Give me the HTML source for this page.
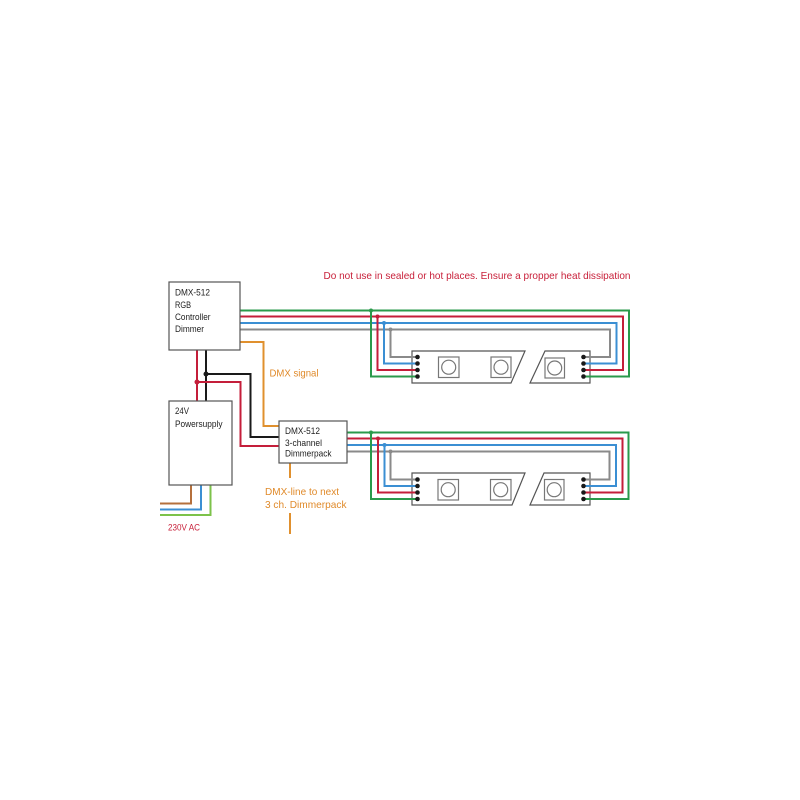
<!DOCTYPE html>
<html>
<head>
<meta charset="utf-8">
<style>
html,body{margin:0;padding:0;background:#fff;}
svg{display:block;}
text{font-family:"Liberation Sans",sans-serif;}
</style>
</head>
<body>
<svg width="800" height="800" viewBox="0 0 800 800" xmlns="http://www.w3.org/2000/svg">
<rect width="800" height="800" fill="#fff"/>

<text x="323.5" y="279" font-size="10.5" fill="#c8203a" textLength="307" lengthAdjust="spacingAndGlyphs">Do not use in sealed or hot places. Ensure a propper heat dissipation</text>

<g fill="#fff" stroke="#555" stroke-width="1.2">
  <polygon points="412,351 525,351 511,383 412,383"/>
  <polygon points="545,351 590,351 590,383 530,383"/>
  <polygon points="412,473 525,473 512,505 412,505"/>
  <polygon points="544,473 590,473 590,505 530,505"/>
</g>
<g fill="#fff" stroke="#777" stroke-width="1.2">
  <rect x="438.5" y="357" width="20.5" height="20.5"/>
  <circle cx="448.7" cy="367.2" r="7"/>
  <rect x="491" y="357" width="20" height="20.5"/>
  <circle cx="501" cy="367.2" r="7"/>
  <rect x="545" y="358" width="19.5" height="20"/>
  <circle cx="554.7" cy="368" r="7"/>

  <rect x="438" y="479.5" width="20.5" height="20.5"/>
  <circle cx="448.2" cy="489.7" r="7"/>
  <rect x="490.5" y="479.5" width="20.5" height="20.5"/>
  <circle cx="500.7" cy="489.7" r="7"/>
  <rect x="544.5" y="479.5" width="19.5" height="20.5"/>
  <circle cx="554.2" cy="489.7" r="7"/>
</g>

<g fill="none" stroke-width="2" stroke-linejoin="miter">
  <path d="M240,329.5 H610 V357 H583 M390.5,329.5 V357 H417" stroke="#8a8a8a"/>
  <path d="M240,323 H616.5 V363.5 H583 M384,323 V363.5 H417" stroke="#3b8fd3"/>
  <path d="M240,316.5 H623 V370 H583 M377.5,316.5 V370 H417" stroke="#c41e3a"/>
  <path d="M240,310.5 H629 V376.5 H583 M371,310.5 V376.5 H417" stroke="#2a9a4b"/>
</g>
<g fill="none" stroke-width="2">
  <path d="M347,451.5 H609.5 V479.5 H583 M390.5,451.5 V479.5 H417" stroke="#8a8a8a"/>
  <path d="M347,445 H616 V486 H583 M384.5,445 V486 H417" stroke="#3b8fd3"/>
  <path d="M347,438.5 H622.5 V492.5 H583 M378,438.5 V492.5 H417" stroke="#c41e3a"/>
  <path d="M347,432.5 H628.5 V499 H583 M371,432.5 V499 H417" stroke="#2a9a4b"/>
</g>

<g>
  <circle cx="371" cy="310.5" r="2" fill="#2a9a4b"/>
  <circle cx="377.5" cy="316.5" r="2" fill="#c41e3a"/>
  <circle cx="384" cy="323" r="2" fill="#3b8fd3"/>
  <circle cx="390.5" cy="329.5" r="2" fill="#8a8a8a"/>
  <circle cx="371" cy="432.5" r="2" fill="#2a9a4b"/>
  <circle cx="378" cy="438.5" r="2" fill="#c41e3a"/>
  <circle cx="384.5" cy="445" r="2" fill="#3b8fd3"/>
  <circle cx="390.5" cy="451.5" r="2" fill="#8a8a8a"/>
</g>

<g fill="#1a1a1a">
  <circle cx="417.5" cy="357" r="2.3"/><circle cx="417.5" cy="363.5" r="2.3"/><circle cx="417.5" cy="370" r="2.3"/><circle cx="417.5" cy="376.5" r="2.3"/>
  <circle cx="583.5" cy="357" r="2.3"/><circle cx="583.5" cy="363.5" r="2.3"/><circle cx="583.5" cy="370" r="2.3"/><circle cx="583.5" cy="376.5" r="2.3"/>
  <circle cx="417.5" cy="479.5" r="2.3"/><circle cx="417.5" cy="486" r="2.3"/><circle cx="417.5" cy="492.5" r="2.3"/><circle cx="417.5" cy="499" r="2.3"/>
  <circle cx="583.5" cy="479.5" r="2.3"/><circle cx="583.5" cy="486" r="2.3"/><circle cx="583.5" cy="492.5" r="2.3"/><circle cx="583.5" cy="499" r="2.3"/>
</g>

<g fill="none" stroke-width="2">
  <path d="M240,342 H263.5 V426 H279" stroke="#e0902e"/>
  <path d="M206,350 V401 M206,374 H250.5 V437 H279" stroke="#1a1a1a"/>
  <path d="M197,350 V401 M197,382 H240.5 V446 H279" stroke="#c41e3a"/>
  <path d="M191,485 V503.5 H160" stroke="#b5703c"/>
  <path d="M201,485 V509.5 H160" stroke="#3b8fd3"/>
  <path d="M210.5,485 V515 H160" stroke="#7cc24a"/>
  <path d="M290,463 V478 M290,513 V534" stroke="#e0902e"/>
</g>
<circle cx="206" cy="374" r="2.5" fill="#1a1a1a"/>
<circle cx="197" cy="382" r="2.5" fill="#c41e3a"/>

<g fill="#fff" stroke="#555" stroke-width="1.2">
  <rect x="169" y="282" width="71" height="68"/>
  <rect x="169" y="401" width="63" height="84"/>
  <rect x="279" y="421" width="68" height="42"/>
</g>

<g font-size="9.5" fill="#222">
  <text x="175" y="295.5" textLength="35" lengthAdjust="spacingAndGlyphs">DMX-512</text>
  <text x="175" y="308" textLength="16" lengthAdjust="spacingAndGlyphs">RGB</text>
  <text x="175" y="320" textLength="35.5" lengthAdjust="spacingAndGlyphs">Controller</text>
  <text x="175" y="332" textLength="29" lengthAdjust="spacingAndGlyphs">Dimmer</text>

  <text x="175" y="414" textLength="14" lengthAdjust="spacingAndGlyphs">24V</text>
  <text x="175" y="427" textLength="47.5" lengthAdjust="spacingAndGlyphs">Powersupply</text>

  <text x="285" y="434" textLength="35" lengthAdjust="spacingAndGlyphs">DMX-512</text>
  <text x="285" y="446" textLength="37" lengthAdjust="spacingAndGlyphs">3-channel</text>
  <text x="285" y="456.5" textLength="46.5" lengthAdjust="spacingAndGlyphs">Dimmerpack</text>
</g>

<g font-size="10.5" fill="#e08a2a">
  <text x="269.5" y="376.5" textLength="49" lengthAdjust="spacingAndGlyphs">DMX signal</text>
  <text x="265" y="495" textLength="74" lengthAdjust="spacingAndGlyphs">DMX-line to next</text>
  <text x="265" y="508" textLength="81.5" lengthAdjust="spacingAndGlyphs">3 ch. Dimmerpack</text>
</g>

<text x="168" y="530.5" font-size="9" fill="#c8203a" textLength="32" lengthAdjust="spacingAndGlyphs">230V AC</text>
</svg>
</body>
</html>
